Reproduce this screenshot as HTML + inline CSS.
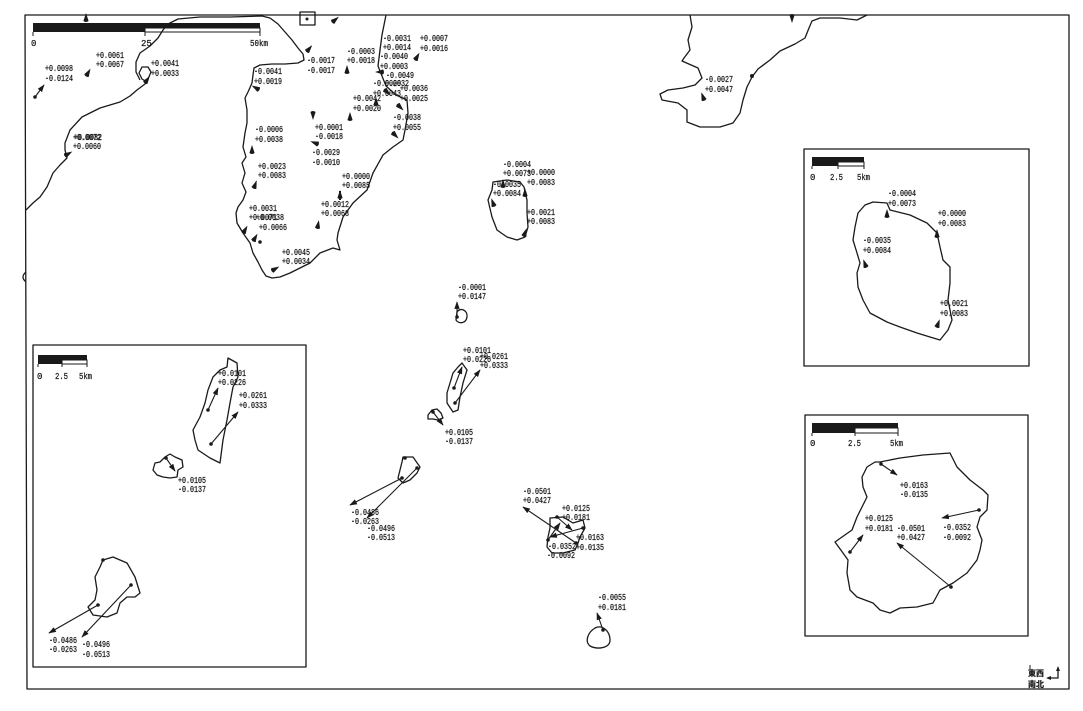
<!DOCTYPE html>
<html><head><meta charset="utf-8"><style>
html,body{margin:0;padding:0;background:#fff;}
svg{display:block;}
text{font-family:"Liberation Mono","DejaVu Sans Mono",monospace;font-size:9px;fill:#1a1a1a;stroke:#1a1a1a;stroke-width:0.25;}
.c{fill:none;stroke:#1a1a1a;stroke-width:1.3;stroke-linejoin:round;}
.a{stroke:#1a1a1a;stroke-width:1.1;fill:none;marker-end:url(#ah);}
.d{fill:#1a1a1a;}
.m{fill:#1a1a1a;}
</style></head><body>
<svg width="1083" height="711" viewBox="0 0 1083 711" xmlns="http://www.w3.org/2000/svg">
<defs>
<marker id="ah" viewBox="0 0 10 10" refX="9" refY="5" markerWidth="7" markerHeight="7" orient="auto"><path d="M0,1.5 L10,5 L0,8.5 Z" fill="#1a1a1a"/></marker>
<path id="tm" d="M0,-5 L2.6,3 Q0,5 -2.6,3 Z"/>
</defs>
<rect width="1083" height="711" fill="#fff"/>
<!-- outer frame -->
<path d="M25,15 L1069,15 L1069,689 L27,689 Z" class="c" stroke-width="1.4"/>
<path d="M26,272 Q20,277 26,282" class="c"/>

<!-- main scale bar -->
<rect x="33" y="23" width="227" height="5" fill="#1a1a1a"/>
<rect x="33" y="28" width="112" height="4" fill="#1a1a1a"/>
<rect x="145" y="28" width="115" height="4" fill="#fff" stroke="#1a1a1a" stroke-width="1"/>
<path d="M33,32 V36 M145,32 V36 M260,32 V36" stroke="#1a1a1a" stroke-width="1"/>
<text x="31" y="46">0</text><text x="141" y="46">25</text><text x="250" y="46" textLength="18" lengthAdjust="spacingAndGlyphs">50km</text>

<!-- coastlines -->
<path class="c" d="M26,210 L33,203 L40,197 L47,187 L53,173 L60,165 L67,158 L65,150 L65,143 L70,130 L82,117 L92,112 L100,108 L110,105 L120,102 L130,96 L137,90 L145,84 L147,82 L142,79 L139,73 L142,67 L148,67 L151,72 L148,79 M140,80 L136,72 L136,62 L140,53 L150,46 L158,38 L163,30 L168,24 L178,19 L200,17 L230,17 L262,16 L270,18 L278,24 L285,32 L292,40 L298,48 L303,54 L304,60 L298,63 L285,64 L272,64 L260,65 L254,68 L253,75 L252,83 L248,92 L245,98 L247,110 L247,123 L245,133 L243,147 L246,157 L242,163 L245,173 L242,183 L246,192 L243,200 L238,207 L236,213 L237,223 L243,233 L250,243 L253,253 L258,262 L262,270 L266,276 L272,278 L280,277 L290,273 L300,268 L310,263 L320,253 L333,248 L340,250 L337,240 L338,233 L343,217 L353,203 L367,190 L373,173 L383,155 L393,147 L403,140 L405,130 L408,113 L407,100 L396,95 L386,86 L378,66 L380,50 L382,35 L386,15"/>
<path class="c" d="M690,15 L692,27 L688,40 L690,50 L684,58 L682,61 L698,68 L702,78 L695,85 L683,88 L668,90 L660,94 L662,100 L678,103 L687,110 L687,122 L700,127 L720,127 L733,123 L740,113 L743,100 L747,87 L752,77 L758,69 L770,60 L780,51 L795,44 L805,38 L809,28 L812,21 L820,18 L840,18 L857,20 L867,15"/>
<circle cx="752" cy="76" r="2" class="d"/>
<use href="#tm" transform="translate(792,18) rotate(180)" class="m"/>

<!-- top box -->
<rect x="300" y="12" width="15" height="13" class="c"/>
<circle cx="307" cy="19" r="1.5" class="d"/>

<!-- main labels -->
<g>
<text x="45" y="71" textLength="28" lengthAdjust="spacingAndGlyphs">+0.0098</text><text x="45" y="81" textLength="28" lengthAdjust="spacingAndGlyphs">-0.0124</text>
<text x="96" y="58" textLength="28" lengthAdjust="spacingAndGlyphs">+0.0061</text><text x="96" y="67" textLength="28" lengthAdjust="spacingAndGlyphs">+0.0067</text>
<text x="151" y="66" textLength="28" lengthAdjust="spacingAndGlyphs">+0.0041</text><text x="151" y="76" textLength="28" lengthAdjust="spacingAndGlyphs">+0.0033</text>
<text x="73" y="140" textLength="28" lengthAdjust="spacingAndGlyphs">+0.0072</text><text x="74" y="140" textLength="28" lengthAdjust="spacingAndGlyphs">+0.0082</text><text x="73" y="149" textLength="28" lengthAdjust="spacingAndGlyphs">+0.0060</text>
<text x="254" y="74" textLength="28" lengthAdjust="spacingAndGlyphs">-0.0041</text><text x="254" y="84" textLength="28" lengthAdjust="spacingAndGlyphs">+0.0019</text>
<text x="307" y="63" textLength="28" lengthAdjust="spacingAndGlyphs">-0.0017</text><text x="307" y="73" textLength="28" lengthAdjust="spacingAndGlyphs">-0.0017</text>
<text x="347" y="54" textLength="28" lengthAdjust="spacingAndGlyphs">-0.0003</text><text x="347" y="63" textLength="28" lengthAdjust="spacingAndGlyphs">+0.0018</text>
<text x="383" y="41" textLength="28" lengthAdjust="spacingAndGlyphs">-0.0031</text><text x="383" y="50" textLength="28" lengthAdjust="spacingAndGlyphs">+0.0014</text>
<text x="420" y="41" textLength="28" lengthAdjust="spacingAndGlyphs">+0.0007</text><text x="420" y="51" textLength="28" lengthAdjust="spacingAndGlyphs">+0.0016</text>
<text x="380" y="59" textLength="28" lengthAdjust="spacingAndGlyphs">-0.0040</text><text x="380" y="69" textLength="28" lengthAdjust="spacingAndGlyphs">+0.0003</text>
<text x="386" y="78" textLength="28" lengthAdjust="spacingAndGlyphs">-0.0049</text>
<text x="373" y="86" textLength="28" lengthAdjust="spacingAndGlyphs">-0.0020</text><text x="385" y="86" textLength="24" lengthAdjust="spacingAndGlyphs">0.0032</text>
<text x="373" y="96" textLength="28" lengthAdjust="spacingAndGlyphs">+0.0043</text>
<text x="400" y="91" textLength="28" lengthAdjust="spacingAndGlyphs">+0.0036</text><text x="400" y="101" textLength="28" lengthAdjust="spacingAndGlyphs">+0.0025</text>
<text x="353" y="101" textLength="28" lengthAdjust="spacingAndGlyphs">+0.0042</text><text x="353" y="111" textLength="28" lengthAdjust="spacingAndGlyphs">+0.0020</text>
<text x="393" y="120" textLength="28" lengthAdjust="spacingAndGlyphs">-0.0038</text><text x="393" y="130" textLength="28" lengthAdjust="spacingAndGlyphs">+0.0055</text>
<text x="315" y="130" textLength="28" lengthAdjust="spacingAndGlyphs">+0.0001</text><text x="315" y="139" textLength="28" lengthAdjust="spacingAndGlyphs">-0.0018</text>
<text x="312" y="155" textLength="28" lengthAdjust="spacingAndGlyphs">-0.0029</text><text x="312" y="165" textLength="28" lengthAdjust="spacingAndGlyphs">-0.0010</text>
<text x="255" y="132" textLength="28" lengthAdjust="spacingAndGlyphs">-0.0006</text><text x="255" y="142" textLength="28" lengthAdjust="spacingAndGlyphs">+0.0038</text>
<text x="258" y="169" textLength="28" lengthAdjust="spacingAndGlyphs">+0.0023</text><text x="258" y="178" textLength="28" lengthAdjust="spacingAndGlyphs">+0.0083</text>
<text x="342" y="179" textLength="28" lengthAdjust="spacingAndGlyphs">+0.0000</text><text x="342" y="188" textLength="28" lengthAdjust="spacingAndGlyphs">+0.0085</text>
<text x="321" y="207" textLength="28" lengthAdjust="spacingAndGlyphs">+0.0012</text><text x="321" y="216" textLength="28" lengthAdjust="spacingAndGlyphs">+0.0068</text>
<text x="249" y="211" textLength="28" lengthAdjust="spacingAndGlyphs">+0.0031</text><text x="249" y="220" textLength="28" lengthAdjust="spacingAndGlyphs">+0.0071</text><text x="256" y="220" textLength="28" lengthAdjust="spacingAndGlyphs">+0.0038</text><text x="259" y="230" textLength="28" lengthAdjust="spacingAndGlyphs">+0.0066</text>
<text x="282" y="255" textLength="28" lengthAdjust="spacingAndGlyphs">+0.0045</text><text x="282" y="264" textLength="28" lengthAdjust="spacingAndGlyphs">+0.0034</text>
<text x="705" y="82" textLength="28" lengthAdjust="spacingAndGlyphs">-0.0027</text><text x="705" y="92" textLength="28" lengthAdjust="spacingAndGlyphs">+0.0047</text>
</g>

<!-- main markers -->
<use href="#tm" transform="translate(86,18)" class="m"/>
<circle cx="35" cy="97" r="1.8" class="d"/><line x1="35" y1="97" x2="44" y2="85" class="a"/>
<use href="#tm" transform="translate(88,73) rotate(30)" class="m"/>
<use href="#tm" transform="translate(147,80) rotate(35)" class="m"/>
<use href="#tm" transform="translate(68,154) rotate(60)" class="m"/>
<use href="#tm" transform="translate(256,88) rotate(-60)" class="m"/>
<use href="#tm" transform="translate(309,49) rotate(40)" class="m"/>
<use href="#tm" transform="translate(347,70)" class="m"/>
<use href="#tm" transform="translate(335,20) rotate(50)" class="m"/>
<use href="#tm" transform="translate(417,57) rotate(30)" class="m"/>
<use href="#tm" transform="translate(380,72) rotate(-90)" class="m"/>
<use href="#tm" transform="translate(387,92) rotate(135)" class="m"/>
<use href="#tm" transform="translate(376,102)" class="m"/>
<use href="#tm" transform="translate(400,107) rotate(135)" class="m"/>
<use href="#tm" transform="translate(395,135) rotate(135)" class="m"/>
<use href="#tm" transform="translate(313,115) rotate(180)" class="m"/>
<use href="#tm" transform="translate(350,117)" class="m"/>
<use href="#tm" transform="translate(315,143) rotate(-70)" class="m"/>
<use href="#tm" transform="translate(252,150)" class="m"/>
<use href="#tm" transform="translate(255,185) rotate(20)" class="m"/>
<use href="#tm" transform="translate(340,195)" class="m"/>
<line x1="340" y1="200" x2="340" y2="191" stroke="#1a1a1a" stroke-width="2"/>
<use href="#tm" transform="translate(318,225) rotate(10)" class="m"/>
<use href="#tm" transform="translate(245,230) rotate(30)" class="m"/>
<use href="#tm" transform="translate(255,238) rotate(30)" class="m"/>
<circle cx="260" cy="242" r="1.8" class="d"/>
<use href="#tm" transform="translate(275,269) rotate(60)" class="m"/>
<use href="#tm" transform="translate(703,97) rotate(-20)" class="m"/>

<!-- central islands -->
<path class="c" d="M493,182 L507,180 L520,182 L524,187 L527,200 L527,213 L528,227 L525,237 L517,240 L507,237 L497,230 L492,217 L488,200 L492,190 Z"/>
<text x="503" y="167" textLength="28" lengthAdjust="spacingAndGlyphs">-0.0004</text><text x="503" y="176" textLength="28" lengthAdjust="spacingAndGlyphs">+0.0073</text>
<text x="527" y="175" textLength="28" lengthAdjust="spacingAndGlyphs">+0.0000</text><text x="527" y="185" textLength="28" lengthAdjust="spacingAndGlyphs">+0.0083</text>
<text x="493" y="187" textLength="28" lengthAdjust="spacingAndGlyphs">-0.0035</text><text x="493" y="196" textLength="28" lengthAdjust="spacingAndGlyphs">+0.0084</text>
<text x="527" y="215" textLength="28" lengthAdjust="spacingAndGlyphs">+0.0021</text><text x="527" y="224" textLength="28" lengthAdjust="spacingAndGlyphs">+0.0083</text>
<use href="#tm" transform="translate(503,184)" class="m"/>
<use href="#tm" transform="translate(525,193)" class="m"/>
<use href="#tm" transform="translate(493,203) rotate(-20)" class="m"/>
<use href="#tm" transform="translate(525,233) rotate(20)" class="m"/>

<path class="c" d="M457,312 C460,307 468,310 467,317 C466,324 458,324 456,320 Z"/>
<text x="458" y="290" textLength="28" lengthAdjust="spacingAndGlyphs">-0.0001</text><text x="458" y="299" textLength="28" lengthAdjust="spacingAndGlyphs">+0.0147</text>
<circle cx="457" cy="317" r="1.8" class="d"/><line x1="457" y1="317" x2="457" y2="302" class="a"/>

<path class="c" d="M462,363 L467,370 L463,383 L460,397 L458,410 L453,412 L447,403 L447,393 L450,383 L453,373 L458,367 Z"/>
<text x="463" y="353" textLength="28" lengthAdjust="spacingAndGlyphs">+0.0101</text><text x="463" y="362" textLength="28" lengthAdjust="spacingAndGlyphs">+0.0226</text>
<text x="480" y="359" textLength="28" lengthAdjust="spacingAndGlyphs">+0.0261</text><text x="480" y="368" textLength="28" lengthAdjust="spacingAndGlyphs">+0.0333</text>
<circle cx="454" cy="388" r="1.8" class="d"/><line x1="454" y1="388" x2="462" y2="367" class="a"/>
<circle cx="455" cy="403" r="1.8" class="d"/><line x1="455" y1="403" x2="480" y2="370" class="a"/>

<path class="c" d="M428,415 L432,410 L437,409 L441,413 L443,418 L438,420 L433,419 L428,419 Z"/>
<circle cx="433" cy="412" r="1.8" class="d"/><line x1="433" y1="412" x2="443" y2="425" class="a"/>
<text x="445" y="435" textLength="28" lengthAdjust="spacingAndGlyphs">+0.0105</text><text x="445" y="444" textLength="28" lengthAdjust="spacingAndGlyphs">-0.0137</text>

<path class="c" d="M403,457 L413,457 L420,467 L417,473 L410,480 L403,483 L398,478 L400,470 L402,462 Z"/>
<circle cx="405" cy="458" r="1.8" class="d"/>
<circle cx="402" cy="478" r="1.8" class="d"/><line x1="402" y1="478" x2="350" y2="505" class="a"/>
<circle cx="417" cy="468" r="1.8" class="d"/><line x1="417" y1="468" x2="367" y2="518" class="a"/>
<text x="351" y="515" textLength="28" lengthAdjust="spacingAndGlyphs">-0.0486</text><text x="351" y="524" textLength="28" lengthAdjust="spacingAndGlyphs">-0.0263</text>
<text x="367" y="531" textLength="28" lengthAdjust="spacingAndGlyphs">-0.0496</text><text x="367" y="540" textLength="28" lengthAdjust="spacingAndGlyphs">-0.0513</text>

<path class="c" d="M550,518 L563,517 L573,523 L583,520 L585,528 L580,537 L578,543 L575,550 L563,553 L552,553 L547,547 L548,537 L550,528 Z"/>
<circle cx="576" cy="543" r="1.8" class="d"/><line x1="576" y1="543" x2="523" y2="507" class="a"/>
<circle cx="548" cy="540" r="1.8" class="d"/><line x1="548" y1="540" x2="560" y2="523" class="a"/>
<circle cx="557" cy="517" r="1.8" class="d"/><line x1="557" y1="517" x2="572" y2="530" class="a"/>
<circle cx="583" cy="528" r="1.8" class="d"/><line x1="583" y1="528" x2="550" y2="537" class="a"/>
<text x="523" y="494" textLength="28" lengthAdjust="spacingAndGlyphs">-0.0501</text><text x="523" y="503" textLength="28" lengthAdjust="spacingAndGlyphs">+0.0427</text>
<text x="562" y="511" textLength="28" lengthAdjust="spacingAndGlyphs">+0.0125</text><text x="562" y="520" textLength="28" lengthAdjust="spacingAndGlyphs">+0.0181</text>
<text x="576" y="540" textLength="28" lengthAdjust="spacingAndGlyphs">+0.0163</text><text x="576" y="550" textLength="28" lengthAdjust="spacingAndGlyphs">+0.0135</text>
<text x="548" y="549" textLength="28" lengthAdjust="spacingAndGlyphs">-0.0352</text><text x="547" y="558" textLength="28" lengthAdjust="spacingAndGlyphs">-0.0092</text>

<path class="c" d="M595,628 C603,624 610,632 610,640 C610,648 598,650 590,646 C585,642 587,633 595,628 Z"/>
<circle cx="603" cy="630" r="1.8" class="d"/><line x1="603" y1="630" x2="597" y2="613" class="a"/>
<text x="598" y="600" textLength="28" lengthAdjust="spacingAndGlyphs">-0.0055</text><text x="598" y="610" textLength="28" lengthAdjust="spacingAndGlyphs">+0.0181</text>

<!-- left inset -->
<rect x="33" y="345" width="273" height="322" class="c" fill="#fff"/>
<rect x="38" y="355" width="49" height="5" fill="#1a1a1a"/>
<rect x="38" y="360" width="24" height="4" fill="#1a1a1a"/>
<rect x="62" y="360" width="25" height="4" fill="#fff" stroke="#1a1a1a" stroke-width="1"/>
<path d="M38,364 V367 M62,364 V367 M87,364 V367" stroke="#1a1a1a" stroke-width="1"/>
<text x="37" y="379">0</text><text x="55" y="379" textLength="13" lengthAdjust="spacingAndGlyphs">2.5</text><text x="79" y="379" textLength="13" lengthAdjust="spacingAndGlyphs">5km</text>
<path class="c" d="M228,358 L237,363 L238,377 L233,387 L230,403 L227,420 L223,440 L220,463 L210,458 L198,450 L195,440 L193,430 L200,417 L205,403 L208,390 L213,377 L220,370 L227,367 Z"/>
<circle cx="208" cy="410" r="1.8" class="d"/><line x1="208" y1="410" x2="218" y2="388" class="a"/>
<circle cx="211" cy="444" r="1.8" class="d"/><line x1="211" y1="444" x2="238" y2="412" class="a"/>
<text x="218" y="376" textLength="28" lengthAdjust="spacingAndGlyphs">+0.0101</text><text x="218" y="385" textLength="28" lengthAdjust="spacingAndGlyphs">+0.0226</text>
<text x="239" y="398" textLength="28" lengthAdjust="spacingAndGlyphs">+0.0261</text><text x="239" y="408" textLength="28" lengthAdjust="spacingAndGlyphs">+0.0333</text>
<path class="c" d="M155,463 L160,462 L165,457 L170,454 L175,457 L182,460 L183,467 L178,470 L177,477 L170,478 L163,477 L157,475 L153,470 Z"/>
<circle cx="166" cy="458" r="1.8" class="d"/><line x1="166" y1="458" x2="175" y2="471" class="a"/>
<text x="178" y="483" textLength="28" lengthAdjust="spacingAndGlyphs">+0.0105</text><text x="178" y="492" textLength="28" lengthAdjust="spacingAndGlyphs">-0.0137</text>
<path class="c" d="M103,560 L113,557 L127,563 L135,577 L140,593 L135,597 L127,597 L120,603 L117,613 L107,617 L93,615 L88,607 L95,600 L97,590 L95,577 L100,567 Z"/>
<circle cx="103" cy="560" r="1.8" class="d"/>
<circle cx="98" cy="605" r="1.8" class="d"/><line x1="98" y1="605" x2="49" y2="633" class="a"/>
<circle cx="131" cy="585" r="1.8" class="d"/><line x1="131" y1="585" x2="82" y2="637" class="a"/>
<text x="49" y="643" textLength="28" lengthAdjust="spacingAndGlyphs">-0.0486</text><text x="49" y="652" textLength="28" lengthAdjust="spacingAndGlyphs">-0.0263</text>
<text x="82" y="647" textLength="28" lengthAdjust="spacingAndGlyphs">-0.0496</text><text x="82" y="657" textLength="28" lengthAdjust="spacingAndGlyphs">-0.0513</text>

<!-- top-right inset -->
<rect x="804" y="149" width="225" height="217" class="c" fill="#fff"/>
<rect x="812" y="157" width="52" height="5" fill="#1a1a1a"/>
<rect x="812" y="162" width="26" height="4" fill="#1a1a1a"/>
<rect x="838" y="162" width="26" height="4" fill="#fff" stroke="#1a1a1a" stroke-width="1"/>
<path d="M812,166 V169 M838,166 V169 M864,166 V169" stroke="#1a1a1a" stroke-width="1"/>
<text x="810" y="180">0</text><text x="830" y="180" textLength="13" lengthAdjust="spacingAndGlyphs">2.5</text><text x="857" y="180" textLength="13" lengthAdjust="spacingAndGlyphs">5km</text>
<path class="c" d="M873,202 L887,203 L890,210 L910,215 L927,223 L937,233 L940,247 L943,260 L950,267 L950,283 L948,300 L952,320 L948,330 L940,340 L930,337 L917,333 L900,327 L887,322 L870,313 L863,300 L858,287 L857,273 L860,263 L857,253 L853,240 L855,227 L858,213 L865,205 Z"/>
<use href="#tm" transform="translate(887,214)" class="m"/>
<use href="#tm" transform="translate(937,234)" class="m"/>
<use href="#tm" transform="translate(865,264) rotate(-20)" class="m"/>
<use href="#tm" transform="translate(938,324) rotate(20)" class="m"/>
<text x="888" y="196" textLength="28" lengthAdjust="spacingAndGlyphs">-0.0004</text><text x="888" y="206" textLength="28" lengthAdjust="spacingAndGlyphs">+0.0073</text>
<text x="938" y="216" textLength="28" lengthAdjust="spacingAndGlyphs">+0.0000</text><text x="938" y="226" textLength="28" lengthAdjust="spacingAndGlyphs">+0.0083</text>
<text x="863" y="243" textLength="28" lengthAdjust="spacingAndGlyphs">-0.0035</text><text x="863" y="253" textLength="28" lengthAdjust="spacingAndGlyphs">+0.0084</text>
<text x="940" y="306" textLength="28" lengthAdjust="spacingAndGlyphs">+0.0021</text><text x="940" y="316" textLength="28" lengthAdjust="spacingAndGlyphs">+0.0083</text>

<!-- bottom-right inset -->
<rect x="805" y="415" width="223" height="221" class="c" fill="#fff"/>
<rect x="812" y="423" width="86" height="5" fill="#1a1a1a"/>
<rect x="812" y="428" width="43" height="5" fill="#1a1a1a"/>
<rect x="855" y="428" width="43" height="5" fill="#fff" stroke="#1a1a1a" stroke-width="1"/>
<path d="M812,433 V436 M855,433 V436 M898,433 V436" stroke="#1a1a1a" stroke-width="1"/>
<text x="810" y="446">0</text><text x="848" y="446" textLength="13" lengthAdjust="spacingAndGlyphs">2.5</text><text x="890" y="446" textLength="13" lengthAdjust="spacingAndGlyphs">5km</text>
<path class="c" d="M880,462 L900,458 L923,455 L950,453 L957,467 L970,480 L983,490 L988,495 L987,510 L980,517 L977,527 L982,540 L980,550 L977,560 L967,573 L953,583 L940,590 L933,603 L917,607 L900,608 L890,613 L880,610 L873,603 L857,597 L850,590 L847,573 L848,560 L843,553 L835,542 L842,537 L852,530 L857,517 L862,507 L867,497 L863,487 L862,477 L867,467 L875,462 Z"/>
<circle cx="881" cy="464" r="1.8" class="d"/><line x1="881" y1="464" x2="897" y2="475" class="a"/>
<circle cx="979" cy="510" r="1.8" class="d"/><line x1="979" y1="510" x2="942" y2="518" class="a"/>
<circle cx="850" cy="552" r="1.8" class="d"/><line x1="850" y1="552" x2="863" y2="535" class="a"/>
<circle cx="951" cy="587" r="1.8" class="d"/><line x1="951" y1="587" x2="897" y2="543" class="a"/>
<text x="900" y="488" textLength="28" lengthAdjust="spacingAndGlyphs">+0.0163</text><text x="900" y="497" textLength="28" lengthAdjust="spacingAndGlyphs">-0.0135</text>
<text x="865" y="521" textLength="28" lengthAdjust="spacingAndGlyphs">+0.0125</text><text x="865" y="531" textLength="28" lengthAdjust="spacingAndGlyphs">+0.0181</text>
<text x="897" y="531" textLength="28" lengthAdjust="spacingAndGlyphs">-0.0501</text><text x="897" y="540" textLength="28" lengthAdjust="spacingAndGlyphs">+0.0427</text>
<text x="943" y="530" textLength="28" lengthAdjust="spacingAndGlyphs">-0.0352</text><text x="943" y="540" textLength="28" lengthAdjust="spacingAndGlyphs">-0.0092</text>

<!-- compass legend -->
<text x="1028" y="676" style="font-family:'Liberation Sans','Noto Sans CJK JP',sans-serif;font-size:8px;font-weight:bold">東西</text>
<text x="1028" y="687" style="font-family:'Liberation Sans','Noto Sans CJK JP',sans-serif;font-size:8px;font-weight:bold">南北</text>
<path d="M1048,678 L1058,678 L1058,669" stroke="#1a1a1a" stroke-width="1.3" fill="none"/>
<path d="M1046,678 L1051,676 L1051,680 Z M1058,666 L1056,671 L1060,671 Z" fill="#1a1a1a"/>
<line x1="1030" y1="665" x2="1030" y2="670" stroke="#1a1a1a" stroke-width="1"/>
</svg>
</body></html>
